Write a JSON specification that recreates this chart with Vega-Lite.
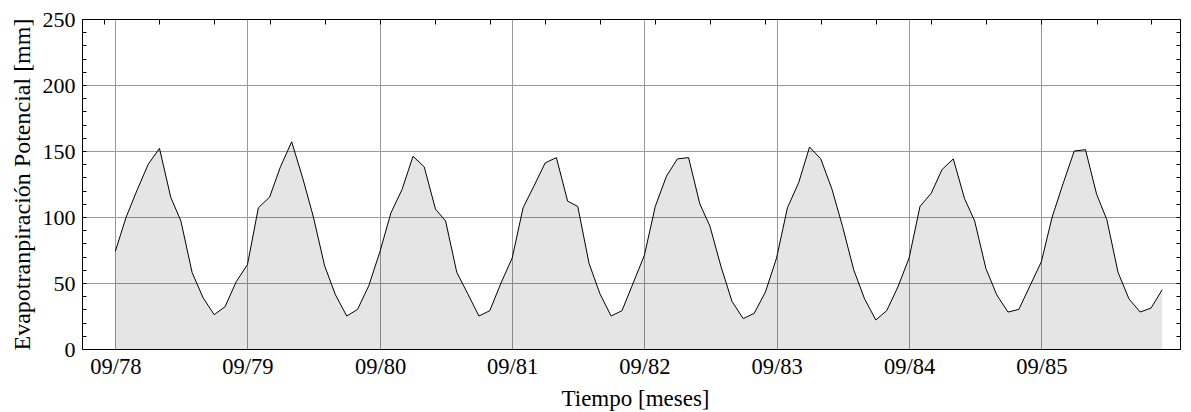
{
  "$schema": "https://vega.github.io/schema/vega-lite/v6.json",
  "width": 1098,
  "height": 330,
  "autosize": {"type": "none"},
  "padding": {"left": 82, "top": 19, "right": 11, "bottom": 63},
  "background": "white",
  "config": {
    "view": {"stroke": null},
    "font": "Liberation Serif",
    "axis": {
      "labelFont": "Liberation Serif",
      "titleFont": "Liberation Serif",
      "labelColor": "black",
      "titleColor": "black",
      "titleFontWeight": "normal",
      "domainColor": "black",
      "domainWidth": 1,
      "tickColor": "black",
      "gridColor": "#999999",
      "gridWidth": 1
    }
  },
  "data": {
    "values": [
      {"fecha": "1978-09-01", "etp": 74},
      {"fecha": "1978-10-01", "etp": 100},
      {"fecha": "1978-11-01", "etp": 121},
      {"fecha": "1978-12-01", "etp": 140},
      {"fecha": "1979-01-01", "etp": 152},
      {"fecha": "1979-02-01", "etp": 115},
      {"fecha": "1979-03-01", "etp": 97},
      {"fecha": "1979-04-01", "etp": 58},
      {"fecha": "1979-05-01", "etp": 39},
      {"fecha": "1979-06-01", "etp": 26},
      {"fecha": "1979-07-01", "etp": 32},
      {"fecha": "1979-08-01", "etp": 51},
      {"fecha": "1979-09-01", "etp": 64},
      {"fecha": "1979-10-01", "etp": 107},
      {"fecha": "1979-11-01", "etp": 115},
      {"fecha": "1979-12-01", "etp": 138},
      {"fecha": "1980-01-01", "etp": 157},
      {"fecha": "1980-02-01", "etp": 129},
      {"fecha": "1980-03-01", "etp": 100},
      {"fecha": "1980-04-01", "etp": 63},
      {"fecha": "1980-05-01", "etp": 41},
      {"fecha": "1980-06-01", "etp": 25},
      {"fecha": "1980-07-01", "etp": 30},
      {"fecha": "1980-08-01", "etp": 48},
      {"fecha": "1980-09-01", "etp": 74},
      {"fecha": "1980-10-01", "etp": 103},
      {"fecha": "1980-11-01", "etp": 121},
      {"fecha": "1980-12-01", "etp": 146},
      {"fecha": "1981-01-01", "etp": 138},
      {"fecha": "1981-02-01", "etp": 106},
      {"fecha": "1981-03-01", "etp": 97},
      {"fecha": "1981-04-01", "etp": 58},
      {"fecha": "1981-05-01", "etp": 42},
      {"fecha": "1981-06-01", "etp": 25},
      {"fecha": "1981-07-01", "etp": 29},
      {"fecha": "1981-08-01", "etp": 50},
      {"fecha": "1981-09-01", "etp": 69},
      {"fecha": "1981-10-01", "etp": 107},
      {"fecha": "1981-11-01", "etp": 124},
      {"fecha": "1981-12-01", "etp": 141},
      {"fecha": "1982-01-01", "etp": 145},
      {"fecha": "1982-02-01", "etp": 112},
      {"fecha": "1982-03-01", "etp": 108},
      {"fecha": "1982-04-01", "etp": 65},
      {"fecha": "1982-05-01", "etp": 42},
      {"fecha": "1982-06-01", "etp": 25},
      {"fecha": "1982-07-01", "etp": 29},
      {"fecha": "1982-08-01", "etp": 50},
      {"fecha": "1982-09-01", "etp": 71},
      {"fecha": "1982-10-01", "etp": 108},
      {"fecha": "1982-11-01", "etp": 131},
      {"fecha": "1982-12-01", "etp": 144},
      {"fecha": "1983-01-01", "etp": 145},
      {"fecha": "1983-02-01", "etp": 110},
      {"fecha": "1983-03-01", "etp": 93},
      {"fecha": "1983-04-01", "etp": 62},
      {"fecha": "1983-05-01", "etp": 36},
      {"fecha": "1983-06-01", "etp": 23},
      {"fecha": "1983-07-01", "etp": 27},
      {"fecha": "1983-08-01", "etp": 43},
      {"fecha": "1983-09-01", "etp": 69},
      {"fecha": "1983-10-01", "etp": 107},
      {"fecha": "1983-11-01", "etp": 126},
      {"fecha": "1983-12-01", "etp": 153},
      {"fecha": "1984-01-01", "etp": 144},
      {"fecha": "1984-02-01", "etp": 121},
      {"fecha": "1984-03-01", "etp": 93},
      {"fecha": "1984-04-01", "etp": 60},
      {"fecha": "1984-05-01", "etp": 38},
      {"fecha": "1984-06-01", "etp": 22},
      {"fecha": "1984-07-01", "etp": 29},
      {"fecha": "1984-08-01", "etp": 47},
      {"fecha": "1984-09-01", "etp": 69},
      {"fecha": "1984-10-01", "etp": 108},
      {"fecha": "1984-11-01", "etp": 118},
      {"fecha": "1984-12-01", "etp": 136},
      {"fecha": "1985-01-01", "etp": 144},
      {"fecha": "1985-02-01", "etp": 114},
      {"fecha": "1985-03-01", "etp": 97},
      {"fecha": "1985-04-01", "etp": 61},
      {"fecha": "1985-05-01", "etp": 41},
      {"fecha": "1985-06-01", "etp": 28},
      {"fecha": "1985-07-01", "etp": 30},
      {"fecha": "1985-08-01", "etp": 48},
      {"fecha": "1985-09-01", "etp": 66},
      {"fecha": "1985-10-01", "etp": 100},
      {"fecha": "1985-11-01", "etp": 126},
      {"fecha": "1985-12-01", "etp": 150},
      {"fecha": "1986-01-01", "etp": 151},
      {"fecha": "1986-02-01", "etp": 117},
      {"fecha": "1986-03-01", "etp": 98},
      {"fecha": "1986-04-01", "etp": 58},
      {"fecha": "1986-05-01", "etp": 38},
      {"fecha": "1986-06-01", "etp": 28},
      {"fecha": "1986-07-01", "etp": 31},
      {"fecha": "1986-08-01", "etp": 45}
    ]
  },
  "layer": [
    {
      "mark": {"type": "area", "fill": "black", "fillOpacity": 0.1, "interpolate": "linear"},
      "encoding": {
        "x": {
          "field": "fecha",
          "type": "temporal",
          "scale": {
            "type": "utc",
            "domain": [
              {"year": 1978, "month": 6, "date": 1, "utc": true},
              {"year": 1986, "month": 9, "date": 19, "utc": true}
            ]
          },
          "axis": {
            "orient": "bottom",
            "title": "Tiempo [meses]",
            "titleFontSize": 23,
            "titleX": 553,
            "titleY": 56,
            "titleAlign": "center",
            "titleBaseline": "alphabetic",
            "titleAnchor": null,
            "values": [
              {"year": 1978, "month": 9, "date": 1, "utc": true},
              {"year": 1979, "month": 9, "date": 1, "utc": true},
              {"year": 1980, "month": 9, "date": 1, "utc": true},
              {"year": 1981, "month": 9, "date": 1, "utc": true},
              {"year": 1982, "month": 9, "date": 1, "utc": true},
              {"year": 1983, "month": 9, "date": 1, "utc": true},
              {"year": 1984, "month": 9, "date": 1, "utc": true},
              {"year": 1985, "month": 9, "date": 1, "utc": true}
            ],
            "format": "%m/%y",
            "labelFontSize": 22.5,
            "labelBaseline": "alphabetic",
            "labelPadding": 24,
            "labelFlush": false,
            "labelOverlap": false,
            "ticks": false,
            "grid": true
          }
        },
        "y": {
          "field": "etp",
          "type": "quantitative",
          "scale": {"domain": [0, 250], "nice": false, "zero": true},
          "axis": {
            "orient": "left",
            "title": "Evapotranpiración Potencial [mm]",
            "titleFontSize": 24,
            "titleAngle": 270,
            "titleX": -53,
            "titleY": 165,
            "titleAlign": "center",
            "titleBaseline": "alphabetic",
            "titleAnchor": null,
            "values": [0, 10, 20, 30, 40, 50, 60, 70, 80, 90, 100, 110, 120, 130, 140, 150, 160, 170, 180, 190, 200, 210, 220, 230, 240, 250],
            "labelExpr": "datum.value % 50 == 0 ? datum.label : ''",
            "labelFontSize": 22,
            "labelPadding": 11,
            "labelFlush": false,
            "labelOverlap": false,
            "ticks": true,
            "tickSize": -4,
            "grid": true,
            "gridOpacity": {"condition": {"test": "datum.value % 50 != 0 || datum.value == 0 || datum.value == 250", "value": 0}, "value": 1}
          }
        }
      }
    },
    {
      "mark": {"type": "line", "color": "black", "strokeWidth": 1, "interpolate": "linear"},
      "encoding": {
        "x": {
          "field": "fecha",
          "type": "temporal",
          "scale": {
            "type": "utc",
            "domain": [
              {"year": 1978, "month": 6, "date": 1, "utc": true},
              {"year": 1986, "month": 9, "date": 19, "utc": true}
            ]
          },
          "axis": {
            "orient": "top",
            "title": null,
            "labels": false,
            "grid": false,
            "ticks": true,
            "tickSize": -5,
            "values": [
              {"year": 1978, "month": 8, "date": 1, "utc": true},
              {"year": 1979, "month": 1, "date": 1, "utc": true},
              {"year": 1979, "month": 6, "date": 1, "utc": true},
              {"year": 1979, "month": 11, "date": 1, "utc": true},
              {"year": 1980, "month": 4, "date": 1, "utc": true},
              {"year": 1980, "month": 9, "date": 1, "utc": true},
              {"year": 1981, "month": 2, "date": 1, "utc": true},
              {"year": 1981, "month": 7, "date": 1, "utc": true},
              {"year": 1981, "month": 12, "date": 1, "utc": true},
              {"year": 1982, "month": 5, "date": 1, "utc": true},
              {"year": 1982, "month": 10, "date": 1, "utc": true},
              {"year": 1983, "month": 3, "date": 1, "utc": true},
              {"year": 1983, "month": 8, "date": 1, "utc": true},
              {"year": 1984, "month": 1, "date": 1, "utc": true},
              {"year": 1984, "month": 6, "date": 1, "utc": true},
              {"year": 1984, "month": 11, "date": 1, "utc": true},
              {"year": 1985, "month": 4, "date": 1, "utc": true},
              {"year": 1985, "month": 9, "date": 1, "utc": true},
              {"year": 1986, "month": 2, "date": 1, "utc": true},
              {"year": 1986, "month": 7, "date": 1, "utc": true}
            ]
          }
        },
        "y": {
          "field": "etp",
          "type": "quantitative",
          "scale": {"domain": [0, 250], "nice": false, "zero": true},
          "axis": {
            "orient": "right",
            "title": null,
            "labels": false,
            "grid": false,
            "ticks": true,
            "tickSize": -4,
            "values": [0, 10, 20, 30, 40, 50, 60, 70, 80, 90, 100, 110, 120, 130, 140, 150, 160, 170, 180, 190, 200, 210, 220, 230, 240, 250]
          }
        }
      }
    }
  ]
}
